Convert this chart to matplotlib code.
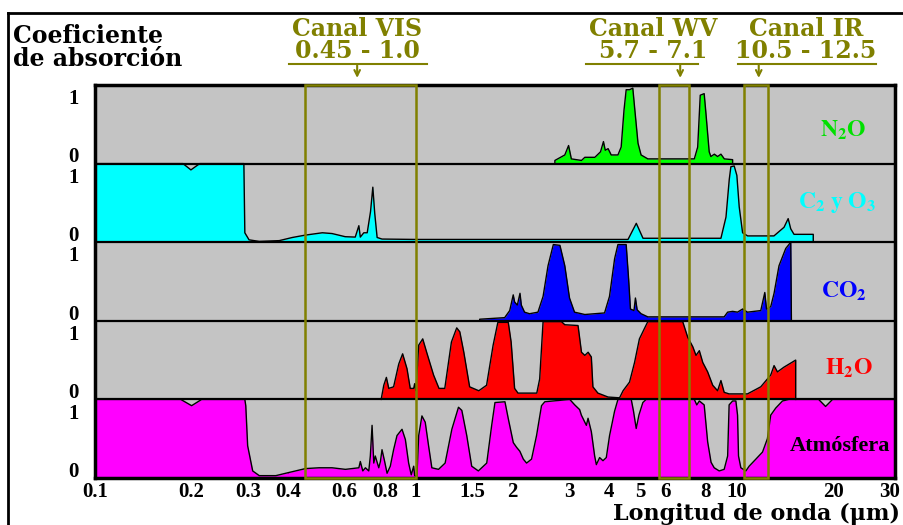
import numpy as np
import matplotlib
matplotlib.use("Agg")
import matplotlib.pyplot as plt
from matplotlib.patches import Rectangle
from matplotlib.lines import Line2D
from matplotlib.ticker import NullLocator

plt.rcParams["mathtext.fontset"] = "stix"

# absorption spectra, wavelength in um, absorption 0..1
n2o_wl = [2.71, 2.71, 2.91, 2.99, 3.05, 3.28, 3.36, 3.61, 3.76, 3.84, 3.89, 3.97,
          4.06, 4.26, 4.36, 4.45, 4.52, 4.63, 4.74, 4.80, 4.92, 5.03, 5.28, 7.37,
          7.55, 7.69, 7.91, 8.01, 8.20, 8.30, 8.51, 8.71, 8.92, 9.14, 9.70, 9.70]
n2o_abs = [0, 0.04, 0.11, 0.23, 0.06, 0.04, 0.08, 0.08, 0.15, 0.28, 0.17, 0.19,
           0.11, 0.11, 0.21, 0.68, 0.94, 0.94, 0.96, 0.72, 0.26, 0.11, 0.06, 0.06,
           0.21, 0.87, 0.89, 0.64, 0.15, 0.09, 0.12, 0.09, 0.12, 0.06, 0.05, 0]

o3_wl = [0.1, 0.188, 0.199, 0.212, 0.291, 0.293, 0.302, 0.325, 0.375, 0.412, 0.452,
         0.511, 0.548, 0.602, 0.647, 0.664, 0.671, 0.688, 0.705, 0.722, 0.734, 0.744,
         0.757, 0.784, 1.0, 4.58, 4.86, 5.10, 8.92, 9.25, 9.47, 9.58, 9.81, 10.0,
         10.17, 10.42, 10.80, 13.05, 14.03, 14.45, 14.72, 15.07, 17.3, 17.3]
o3_abs = [1, 1, 0.92, 1, 1, 0.12, 0.03, 0.01, 0.02, 0.06, 0.09,
          0.12, 0.11, 0.07, 0.065, 0.21, 0.065, 0.12, 0.12, 0.39, 0.70, 0.37,
          0.06, 0.04, 0.035, 0.035, 0.24, 0.05, 0.05, 0.32, 0.80, 0.96, 0.97, 0.85,
          0.45, 0.12, 0.08, 0.08, 0.19, 0.30, 0.17, 0.10, 0.10, 0]

co2_wl = [1.58, 1.58, 1.89, 1.96, 2.01, 2.03, 2.07, 2.11, 2.13, 2.18, 2.26, 2.40,
          2.49, 2.58, 2.68, 2.81, 2.91, 3.01, 3.12, 3.36, 3.87, 4.01, 4.16, 4.26,
          4.52, 4.60, 4.66, 4.78, 4.83, 4.89, 5.03, 5.28, 9.13, 9.36, 9.70, 10.05,
          10.42, 10.79, 11.87, 12.22, 12.37, 12.75, 13.06, 13.53, 14.20, 14.72, 14.79]
co2_abs = [0, 0.02, 0.04, 0.13, 0.33, 0.24, 0.20, 0.35, 0.20, 0.11, 0.09, 0.11,
           0.31, 0.70, 0.97, 0.96, 0.70, 0.29, 0.11, 0.08, 0.10, 0.31, 0.79, 0.97,
           0.97, 0.53, 0.15, 0.13, 0.29, 0.14, 0.09, 0.05, 0.05, 0.11, 0.12, 0.11,
           0.15, 0.11, 0.13, 0.36, 0.15, 0.18, 0.35, 0.70, 0.92, 1.0, 0]

h2o_wl = [0.780, 0.780, 0.794, 0.809, 0.823, 0.852, 0.884, 0.909, 0.938, 0.960, 0.984,
          0.991, 1.0, 1.02, 1.05, 1.08, 1.135, 1.18, 1.23, 1.29, 1.34, 1.37, 1.41,
          1.47, 1.57, 1.66, 1.74, 1.80, 1.94, 1.98, 2.03, 2.08, 2.38, 2.43, 2.49,
          2.84, 2.91, 3.20, 3.28, 3.36, 3.44, 3.52, 3.56, 3.69, 3.97, 4.31, 4.42,
          4.63, 4.80, 4.97, 5.15, 5.28, 6.78, 7.03, 7.29, 7.46, 7.64, 7.83, 8.11,
          8.41, 8.71, 8.92, 9.13, 9.46, 10.79, 11.87, 12.75, 13.06, 13.38, 14.02,
          15.25, 15.25]
h2o_abs = [0, 0.01, 0.18, 0.28, 0.14, 0.16, 0.45, 0.58, 0.39, 0.14, 0.14,
           0.20, 0.11, 0.69, 0.77, 0.60, 0.31, 0.14, 0.14, 0.73, 0.91, 0.86, 0.60,
           0.16, 0.11, 0.18, 0.69, 0.98, 0.98, 0.73, 0.14, 0.08, 0.08, 0.26, 0.99,
           0.99, 0.95, 0.94, 0.60, 0.56, 0.60, 0.54, 0.16, 0.08, 0.03, 0.02, 0.11,
           0.22, 0.47, 0.77, 0.90, 0.99, 0.99, 0.79, 0.67, 0.56, 0.62, 0.47, 0.35,
           0.18, 0.11, 0.24, 0.09, 0.07, 0.07, 0.16, 0.31, 0.43, 0.35, 0.41,
           0.50, 0]

atm_wl = [0.1, 0.185, 0.2, 0.215, 0.293, 0.295, 0.299, 0.310, 0.325, 0.366, 0.402,
          0.453, 0.499, 0.548, 0.603, 0.664, 0.671, 0.683, 0.696, 0.713, 0.721,
          0.730, 0.739, 0.747, 0.766, 0.775, 0.784, 0.799, 0.813, 0.832, 0.852,
          0.873, 0.905, 0.927, 0.949, 0.967, 0.984, 0.991, 1.007, 1.02, 1.044,
          1.069, 1.095, 1.121, 1.176, 1.233, 1.294, 1.357, 1.390, 1.440, 1.492,
          1.565, 1.662, 1.722, 1.763, 1.894, 1.941, 2.011, 2.059, 2.108, 2.161,
          2.212, 2.292, 2.376, 2.462, 2.521, 3.015, 3.125, 3.237, 3.277, 3.397,
          3.438, 3.520, 3.605, 3.649, 3.736, 3.827, 3.919, 4.012, 4.159, 4.261,
          4.687, 4.764, 4.857, 4.952, 5.094, 5.216, 7.37, 7.50, 7.64, 7.91, 8.11,
          8.31, 8.50, 8.81, 9.13, 9.36, 9.46, 9.70, 9.93, 10.05, 10.12, 10.29,
          10.67, 10.92, 11.46, 12.02, 12.45, 12.75, 13.22, 13.87, 14.54, 17.98,
          18.90, 19.87, 31.1]
atm_abs = [1, 1, 0.92, 1, 1, 0.92, 0.41, 0.09, 0.03, 0.03, 0.07,
           0.12, 0.13, 0.13, 0.11, 0.13, 0.21, 0.09, 0.13, 0.09, 0.28,
           0.67, 0.19, 0.28, 0.13, 0.21, 0.36, 0.21, 0.06, 0.15, 0.36,
           0.54, 0.62, 0.49, 0.19, 0.04, 0.15, 0.03, 0.02, 0.54, 0.79,
           0.71, 0.41, 0.13, 0.11, 0.19, 0.62, 0.90, 0.86, 0.54, 0.15,
           0.09, 0.19, 0.67, 0.96, 0.97, 0.75, 0.45, 0.39, 0.34, 0.24,
           0.19, 0.24, 0.54, 0.92, 0.97, 1.0, 0.93, 0.87, 0.80, 0.67,
           0.76, 0.59, 0.28, 0.17, 0.26, 0.22, 0.26, 0.54, 0.85, 1.0,
           1.0, 0.85, 0.63, 0.80, 0.96, 1.0, 1.0, 0.93, 0.98, 0.93, 0.46,
           0.20, 0.13, 0.09, 0.11, 0.28, 0.93, 0.98, 0.98, 0.80, 0.28, 0.13,
           0.09, 0.15, 0.24, 0.33, 0.50, 0.80, 0.89, 0.98, 1.0, 1.0,
           0.91, 1.0, 1.0]

gases = ["Atmósfera", r"$\mathbf{H_2O}$", r"$\mathbf{CO_2}$",
         r"$\mathbf{C_2\ y\ O_3}$", r"$\mathbf{N_2O}$"]
gas_colors = ["#ff00ff", "#ff0000", "#0000ff", "#00ffff", "#00ff00"]
label_colors = ["black", "#ff0000", "#0000ff", "#00ffff", "#00e000"]

# satellite channels (um)
channels = [(0.45, 1.0), (5.7, 7.1), (10.5, 12.5)]
channel_names = ["Canal VIS\n0.45 - 1.0", "Canal WV\n5.7 - 7.1", "Canal IR\n10.5 - 12.5"]

xticks = [0.1, 0.2, 0.3, 0.4, 0.6, 0.8, 1, 1.5, 2, 3, 4, 5, 6, 8, 10, 20, 30]
xticklabels = ["0.1", "0.2", "0.3", "0.4", "0.6", "0.8", "1", "1.5", "2", "3",
               "4", "5", "6", "8", "10", "20", "30"]

olive = "#808000"
serif = "Liberation Serif"
head = "DejaVu Serif"

fig = plt.figure(figsize=(9.04, 5.25), dpi=100)
ax = fig.add_axes([95 / 904, 47 / 525, 800 / 904, 393 / 525])
ax.set_facecolor("#c4c4c4")
ax.set_xscale("log")
ax.set_xlim(0.1025, 31.1)
ax.set_ylim(0, 5)

series = [(atm_wl, atm_abs), (h2o_wl, h2o_abs), (co2_wl, co2_abs),
          (o3_wl, o3_abs), (n2o_wl, n2o_abs)]
label_x = [21.0, 22.3, 21.5, 20.6, 21.5]
label_y = [0.41, 0.39, 0.38, 0.50, 0.42]
for off, (wl, ab) in enumerate(series):
    top = off + np.array(ab)
    ax.fill_between(wl, off, top, color=gas_colors[off], lw=0, zorder=2)
    ax.plot(wl, top, color="black", lw=1, zorder=3)
    fs = 16 if off == 0 else 17
    ax.text(label_x[off], off + label_y[off], gases[off], color=label_colors[off],
            ha="center", va="center", fontsize=fs, fontfamily=serif,
            fontweight="bold", zorder=5)

for y in range(1, 5):
    ax.axhline(y, color="black", lw=1.6, zorder=4)

trans = ax.get_xaxis_transform()
header_x = [0.656, 5.48, 16.4]
underline = [(0.403, 1.08), (3.39, 7.57), (10.1, 27.1)]
arrow_x = [0.656, 6.66, 11.7]
for (lo, hi), name, hx, (u0, u1), axx in zip(channels, channel_names, header_x,
                                               underline, arrow_x):
    ax.add_patch(Rectangle((lo, 0), hi - lo, 5, fill=False, ec=olive, lw=1.8,
                           zorder=6, clip_on=False))
    ax.text(hx, 1.115, name, transform=trans, ha="center", va="center",
            color=olive, fontsize=17, fontfamily=head, fontweight="bold",
            linespacing=0.92)
    ax.plot([u0, u1], [1.053, 1.053], transform=trans, color=olive, lw=1.5,
            clip_on=False)
    ax.annotate("", xy=(axx, 1.018), xytext=(axx, 1.05), xycoords=trans,
                textcoords=trans,
                arrowprops=dict(arrowstyle="->", color=olive, lw=1.5,
                                shrinkA=0, shrinkB=0))

for s in ax.spines.values():
    s.set_linewidth(2.5)
    s.set_zorder(5)

ax.set_xticks(xticks)
ax.set_xticklabels(xticklabels)
ax.xaxis.set_minor_locator(NullLocator())
ax.tick_params(axis="x", direction="in", length=4, width=1, pad=3)
yt = []
ytl = []
for off in range(5):
    yt += [off + 0.11, off + 0.85]
    ytl += ["0", "1"]
ax.set_yticks(yt)
ax.set_yticklabels(ytl)
ax.tick_params(axis="y", length=0, pad=12)
for lab in ax.get_xticklabels() + ax.get_yticklabels():
    lab.set_fontfamily(serif)
    lab.set_fontweight("bold")
    lab.set_fontsize(15)

fig.text(13 / 904, 1 - 24 / 525, "Coeficiente\nde absorción", ha="left", va="top",
         fontsize=17, fontfamily=head, fontweight="bold", linespacing=0.95)
fig.text(613 / 904, 5 / 525, "Longitud de onda (μm)", ha="left", va="baseline",
         fontsize=16, fontfamily=head, fontweight="bold")

fig.add_artist(Line2D([8 / 904, 1], [1 - 13 / 525] * 2, color="black", lw=2,
                      transform=fig.transFigure))
fig.add_artist(Line2D([8 / 904] * 2, [0, 1 - 13 / 525], color="black", lw=2,
                      transform=fig.transFigure))

fig.savefig("out.png", dpi=100, facecolor="white")
